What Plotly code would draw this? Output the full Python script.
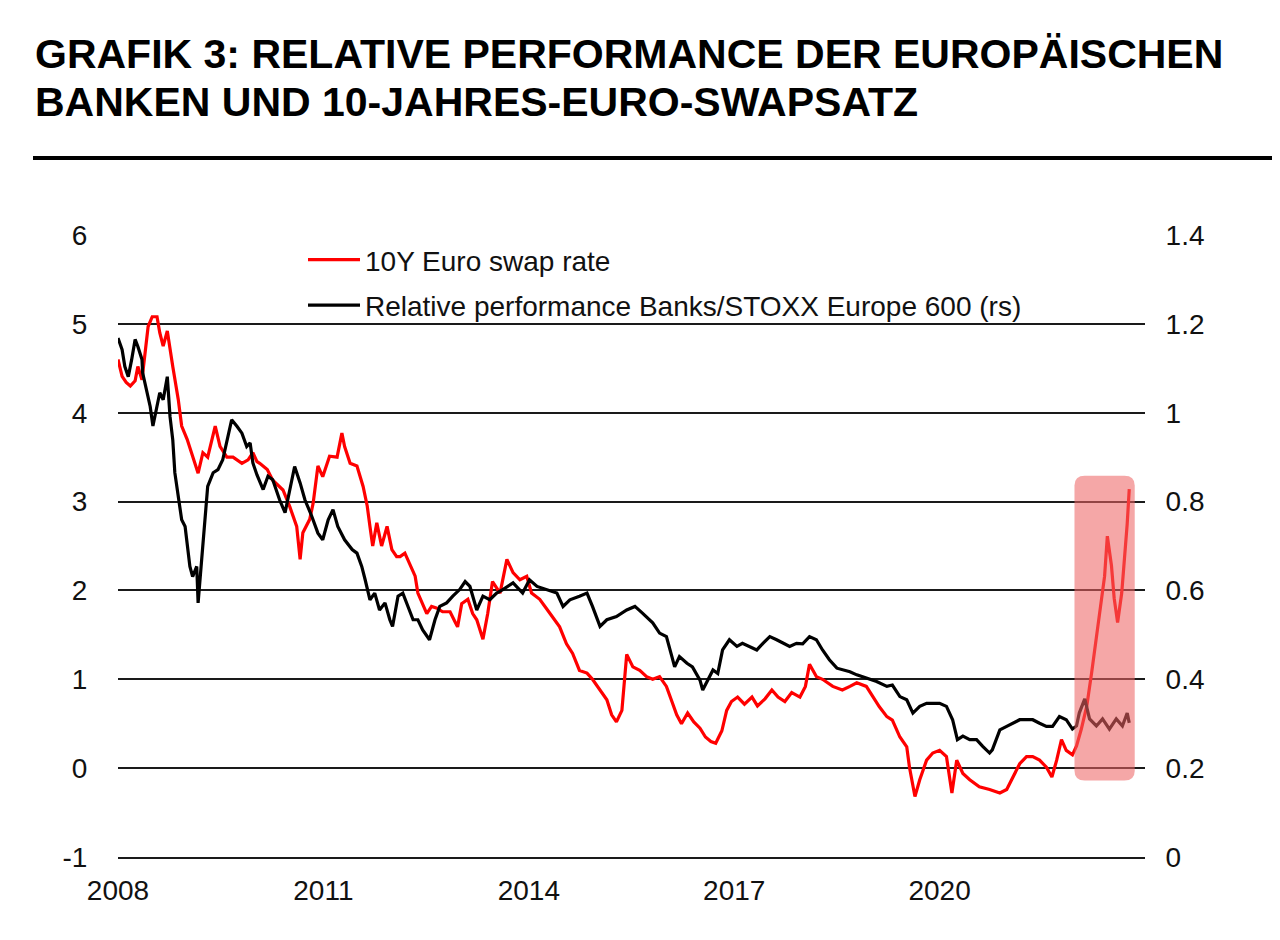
import plotly.graph_objects as go

# ---------------- data (decimal years) ----------------
swap_years = [2008.00, 2008.06, 2008.12, 2008.18, 2008.25, 2008.29, 2008.35, 2008.39, 2008.44, 2008.50,
              2008.57, 2008.61, 2008.66, 2008.72, 2008.76, 2008.80, 2008.88, 2008.93, 2009.01, 2009.09,
              2009.17, 2009.24, 2009.31, 2009.42, 2009.49, 2009.59, 2009.68, 2009.81, 2009.90, 2009.97,
              2010.03, 2010.07, 2010.18, 2010.26, 2010.41, 2010.51, 2010.61, 2010.66, 2010.70, 2010.80,
              2010.85, 2010.92, 2010.99, 2011.09, 2011.20, 2011.27, 2011.31, 2011.39, 2011.49, 2011.58,
              2011.64, 2011.68, 2011.72, 2011.78, 2011.85, 2011.93, 2012.00, 2012.07, 2012.12, 2012.19,
              2012.26, 2012.34, 2012.38, 2012.45, 2012.51, 2012.58, 2012.66, 2012.74, 2012.85, 2012.92,
              2012.96, 2013.02, 2013.11, 2013.18, 2013.24, 2013.33, 2013.40, 2013.47, 2013.58, 2013.68,
              2013.77, 2013.87, 2013.97, 2014.04, 2014.16, 2014.31, 2014.45, 2014.55, 2014.64, 2014.74,
              2014.85, 2014.93, 2015.04, 2015.14, 2015.21, 2015.28, 2015.36, 2015.43, 2015.52, 2015.62,
              2015.72, 2015.81, 2015.91, 2016.01, 2016.09, 2016.16, 2016.23, 2016.32, 2016.41, 2016.50,
              2016.58, 2016.66, 2016.73, 2016.82, 2016.89, 2016.96, 2017.05, 2017.15, 2017.26, 2017.34,
              2017.45, 2017.55, 2017.64, 2017.74, 2017.84, 2017.96, 2018.04, 2018.10, 2018.20, 2018.29,
              2018.44, 2018.58, 2018.69, 2018.79, 2018.93, 2019.02, 2019.12, 2019.23, 2019.31, 2019.42,
              2019.52, 2019.56, 2019.64, 2019.71, 2019.81, 2019.90, 2020.00, 2020.10, 2020.18, 2020.25,
              2020.34, 2020.44, 2020.58, 2020.73, 2020.88, 2020.98, 2021.07, 2021.17, 2021.27, 2021.36,
              2021.46, 2021.56, 2021.64, 2021.71, 2021.78, 2021.85, 2021.94, 2022.00, 2022.07, 2022.15,
              2022.22, 2022.26, 2022.31, 2022.36, 2022.41, 2022.45, 2022.51, 2022.55, 2022.60, 2022.66,
              2022.70, 2022.74, 2022.77]
swap_rate = [4.60, 4.41, 4.34, 4.30, 4.36, 4.52, 4.37, 4.63, 4.97, 5.08,
             5.08, 4.90, 4.75, 4.92, 4.71, 4.52, 4.15, 3.85, 3.70, 3.50,
             3.32, 3.55, 3.50, 3.85, 3.62, 3.50, 3.50, 3.43, 3.47, 3.55,
             3.45, 3.43, 3.36, 3.24, 3.13, 2.94, 2.72, 2.35, 2.65, 2.80,
             2.98, 3.40, 3.28, 3.51, 3.50, 3.77, 3.62, 3.43, 3.40, 3.17,
             2.95, 2.72, 2.50, 2.76, 2.50, 2.72, 2.46, 2.38, 2.38, 2.42,
             2.30, 2.16, 1.97, 1.85, 1.74, 1.82, 1.80, 1.76, 1.76, 1.65,
             1.59, 1.85, 1.90, 1.74, 1.67, 1.45, 1.74, 2.10, 1.97, 2.35,
             2.20, 2.12, 2.16, 1.97, 1.90, 1.74, 1.59, 1.40, 1.29, 1.10,
             1.07, 1.00, 0.88, 0.77, 0.60, 0.52, 0.65, 1.28, 1.14, 1.10,
             1.03, 1.00, 1.03, 0.92, 0.75, 0.60, 0.50, 0.62, 0.52, 0.45,
             0.35, 0.30, 0.28, 0.42, 0.65, 0.75, 0.80, 0.72, 0.80, 0.70,
             0.78, 0.88, 0.80, 0.75, 0.85, 0.80, 0.92, 1.17, 1.03, 1.00,
             0.92, 0.88, 0.92, 0.96, 0.92, 0.81, 0.69, 0.58, 0.54, 0.35,
             0.24, 0.01, -0.32, -0.13, 0.09, 0.17, 0.20, 0.13, -0.28, 0.09,
             -0.06, -0.13, -0.21, -0.24, -0.28, -0.24, -0.10, 0.05, 0.13, 0.13,
             0.09, 0.01, -0.10, 0.09, 0.32, 0.20, 0.15, 0.25, 0.44, 0.70,
             1.07, 1.29, 1.57, 1.83, 2.16, 2.61, 2.28, 1.91, 1.64, 1.97,
             2.35, 2.75, 3.14]

bank_years = [2008.00, 2008.06, 2008.10, 2008.15, 2008.20, 2008.25, 2008.29, 2008.35, 2008.36, 2008.42,
              2008.47, 2008.51, 2008.57, 2008.61, 2008.66, 2008.72, 2008.76, 2008.80, 2008.83, 2008.86,
              2008.91, 2008.93, 2008.98, 2009.02, 2009.05, 2009.09, 2009.15, 2009.17, 2009.23, 2009.27,
              2009.31, 2009.39, 2009.46, 2009.53, 2009.61, 2009.66, 2009.74, 2009.81, 2009.88, 2009.93,
              2009.97, 2010.03, 2010.12, 2010.19, 2010.26, 2010.36, 2010.44, 2010.51, 2010.58, 2010.66,
              2010.73, 2010.83, 2010.92, 2010.99, 2011.07, 2011.14, 2011.21, 2011.31, 2011.42, 2011.49,
              2011.56, 2011.61, 2011.68, 2011.75, 2011.82, 2011.90, 2011.97, 2012.01, 2012.09, 2012.16,
              2012.23, 2012.31, 2012.38, 2012.45, 2012.55, 2012.63, 2012.70, 2012.80, 2012.89, 2012.99,
              2013.07, 2013.14, 2013.24, 2013.33, 2013.43, 2013.53, 2013.62, 2013.77, 2013.91, 2014.01,
              2014.12, 2014.26, 2014.41, 2014.50, 2014.60, 2014.74, 2014.85, 2014.93, 2015.04, 2015.14,
              2015.28, 2015.43, 2015.55, 2015.66, 2015.81, 2015.91, 2016.01, 2016.09, 2016.13, 2016.20,
              2016.31, 2016.39, 2016.50, 2016.54, 2016.61, 2016.69, 2016.76, 2016.83, 2016.93, 2017.04,
              2017.12, 2017.23, 2017.33, 2017.42, 2017.52, 2017.62, 2017.71, 2017.81, 2017.91, 2018.00,
              2018.10, 2018.20, 2018.29, 2018.39, 2018.50, 2018.58, 2018.69, 2018.79, 2018.93, 2019.08,
              2019.23, 2019.31, 2019.42, 2019.52, 2019.61, 2019.71, 2019.81, 2019.90, 2020.00, 2020.10,
              2020.19, 2020.26, 2020.34, 2020.44, 2020.54, 2020.63, 2020.73, 2020.77, 2020.88, 2020.98,
              2021.07, 2021.17, 2021.27, 2021.36, 2021.46, 2021.56, 2021.65, 2021.75, 2021.85, 2021.94,
              2022.00, 2022.04, 2022.12, 2022.19, 2022.29, 2022.38, 2022.48, 2022.58, 2022.67, 2022.74,
              2022.77]
bank_rel = [1.168, 1.142, 1.104, 1.081, 1.120, 1.165, 1.149, 1.120, 1.090, 1.045,
            1.014, 0.970, 1.014, 1.045, 1.029, 1.081, 0.991, 0.939, 0.865, 0.834,
            0.789, 0.759, 0.744, 0.699, 0.654, 0.631, 0.654, 0.572, 0.685, 0.775,
            0.834, 0.865, 0.872, 0.894, 0.954, 0.984, 0.969, 0.954, 0.924, 0.932,
            0.887, 0.860, 0.827, 0.857, 0.849, 0.804, 0.775, 0.827, 0.879, 0.842,
            0.804, 0.767, 0.729, 0.714, 0.759, 0.782, 0.744, 0.714, 0.692, 0.684,
            0.654, 0.624, 0.579, 0.594, 0.556, 0.572, 0.534, 0.519, 0.587, 0.594,
            0.564, 0.534, 0.534, 0.511, 0.489, 0.534, 0.564, 0.572, 0.587, 0.602,
            0.620, 0.609, 0.556, 0.587, 0.579, 0.594, 0.602, 0.617, 0.594, 0.624,
            0.609, 0.602, 0.594, 0.564, 0.579, 0.587, 0.594, 0.564, 0.519, 0.534,
            0.541, 0.556, 0.564, 0.549, 0.527, 0.504, 0.496, 0.451, 0.428, 0.451,
            0.436, 0.428, 0.398, 0.376, 0.398, 0.421, 0.413, 0.466, 0.489, 0.474,
            0.481, 0.474, 0.466, 0.481, 0.496, 0.489, 0.481, 0.474, 0.481, 0.480,
            0.496, 0.489, 0.466, 0.444, 0.425, 0.421, 0.417, 0.410, 0.403, 0.395,
            0.384, 0.387, 0.361, 0.354, 0.324, 0.339, 0.346, 0.346, 0.346, 0.339,
            0.309, 0.264, 0.272, 0.264, 0.264, 0.249, 0.234, 0.241, 0.286, 0.294,
            0.301, 0.309, 0.309, 0.309, 0.301, 0.294, 0.294, 0.316, 0.309, 0.288,
            0.295, 0.324, 0.356, 0.311, 0.295, 0.311, 0.288, 0.311, 0.295, 0.324,
            0.302]

year_ticks = [2008, 2011, 2014, 2017, 2020]
left_ticks = [-1, 0, 1, 2, 3, 4, 5, 6]
left_labels = ["-1", "0", "1", "2", "3", "4", "5", "6"]
right_ticks = [0, 0.2, 0.4, 0.6, 0.8, 1.0, 1.2, 1.4]
right_labels = ["0", "0.2", "0.4", "0.6", "0.8", "1", "1.2", "1.4"]

title_line1 = "GRAFIK 3: RELATIVE PERFORMANCE DER EUROPÄISCHEN"
title_line2 = "BANKEN UND 10-JAHRES-EURO-SWAPSATZ"
name_swap = "10Y Euro swap rate"
name_bank = "Relative performance Banks/STOXX Europe 600 (rs)"

# highlighted period (2022) in axis units
HL_X0, HL_X1 = 2021.97, 2022.85
HL_Y0, HL_Y1 = -0.14, 3.29
RX, RY = 0.15, 0.11

FONT = "Arial, 'Liberation Sans', sans-serif"

# page offset of the figure (default body margin) and plot-area geometry in page px
OFF = 8
PL, PT, PW, PH = 118, 235, 1027, 622


def px_x(x):
    return (x - PL) / PW


def px_y(y):
    return (PT + PH - y) / PH


fig = go.Figure()
fig.add_trace(go.Scatter(x=swap_years, y=swap_rate, name=name_swap, mode="lines",
                         line=dict(color="#FF0000", width=3.2), yaxis="y", legendgroup="a"))
fig.add_trace(go.Scatter(x=bank_years, y=bank_rel, name=name_bank, mode="lines",
                         line=dict(color="#000000", width=3.2), yaxis="y2", legendgroup="b"))

path = (f"M {HL_X0+RX},{HL_Y0} L {HL_X1-RX},{HL_Y0} Q {HL_X1},{HL_Y0} {HL_X1},{HL_Y0+RY} "
        f"L {HL_X1},{HL_Y1-RY} Q {HL_X1},{HL_Y1} {HL_X1-RX},{HL_Y1} "
        f"L {HL_X0+RX},{HL_Y1} Q {HL_X0},{HL_Y1} {HL_X0},{HL_Y1-RY} "
        f"L {HL_X0},{HL_Y0+RY} Q {HL_X0},{HL_Y0} {HL_X0+RX},{HL_Y0} Z")
fig.add_shape(type="path", path=path, xref="x", yref="y", layer="above",
              fillcolor="rgba(237,100,100,0.57)", line=dict(width=0))

# rule under the title
fig.add_shape(type="line", xref="paper", yref="paper",
              x0=px_x(33), x1=px_x(1285), y0=px_y(158), y1=px_y(158),
              line=dict(color="#000000", width=4))

fig.add_annotation(text=f"<b>{title_line1}</b>", xref="paper", yref="paper",
                   x=px_x(33), y=px_y(54), xanchor="left", yanchor="middle",
                   showarrow=False, font=dict(family=FONT, size=41, color="#000000"))
fig.add_annotation(text=f"<b>{title_line2}</b>", xref="paper", yref="paper",
                   x=px_x(33), y=px_y(102), xanchor="left", yanchor="middle",
                   showarrow=False, font=dict(family=FONT, size=41, color="#000000"))

fig.update_layout(
    width=1272, height=932, autosize=False,
    margin=dict(l=PL - OFF, r=1272 - (PL - OFF) - PW, t=PT - OFF, b=932 - (PT - OFF) - PH),
    paper_bgcolor="white", plot_bgcolor="white",
    font=dict(family=FONT, size=28, color="#111111"),
    showlegend=True,
    legend=dict(x=px_x(303), y=px_y(235), xanchor="left", yanchor="top",
                bgcolor="rgba(0,0,0,0)", font=dict(size=28, family=FONT, color="#111111"),
                traceorder="grouped", tracegroupgap=6, itemwidth=52),
    xaxis=dict(range=[2008, 2023], tickvals=year_ticks, ticktext=[str(y) for y in year_ticks],
               showgrid=False, zeroline=False, showline=True, linecolor="#1a1a1a", linewidth=1.5,
               ticks="outside", ticklen=8, tickcolor="rgba(0,0,0,0)"),
    yaxis=dict(range=[-1, 6], tickvals=left_ticks, ticktext=left_labels,
               showgrid=True, gridcolor="#1a1a1a",
               gridwidth=1.5, zeroline=False, showline=False,
               ticks="outside", ticklen=24, tickcolor="rgba(0,0,0,0)"),
    yaxis2=dict(range=[0, 1.4], tickvals=right_ticks, ticktext=right_labels,
                overlaying="y", side="right", showgrid=False, zeroline=False, showline=False,
                ticks="outside", ticklen=14, tickcolor="rgba(0,0,0,0)"),
)

fig.write_html("out.html")
